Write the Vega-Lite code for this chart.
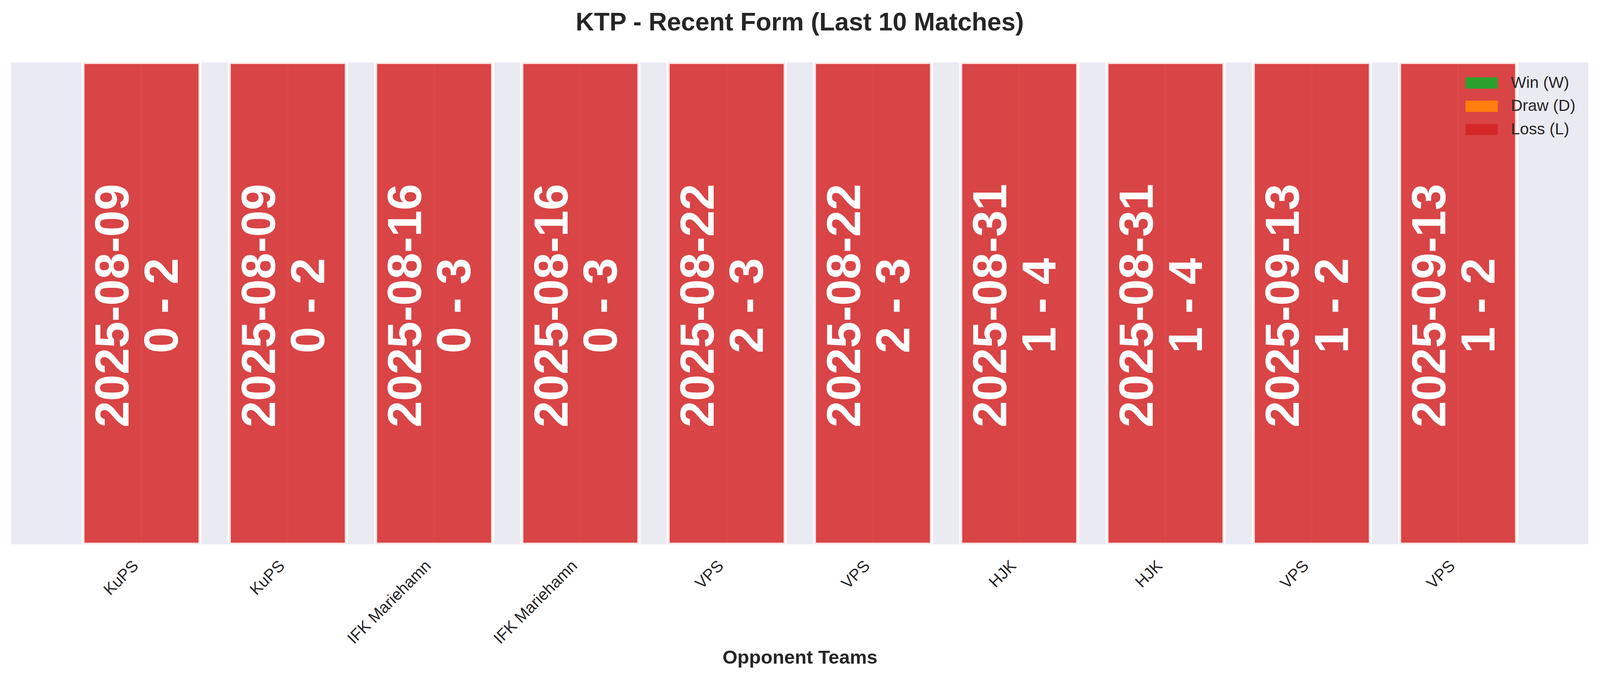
{
  "$schema": "https://vega.github.io/schema/vega-lite/v6.json",
  "width": 4037,
  "height": 1234,
  "autosize": {"type": "none"},
  "padding": {"left": 29, "top": 160, "right": 104, "bottom": 376},
  "background": "white",
  "config": {
    "view": {"fill": "#EAEAF2", "stroke": null},
    "font": "Liberation Sans"
  },
  "title": {
    "text": "KTP - Recent Form (Last 10 Matches)",
    "fontSize": 65,
    "fontWeight": "bold",
    "font": "Liberation Sans",
    "color": "#262626",
    "anchor": "middle",
    "baseline": "alphabetic",
    "offset": 17
  },
  "data": {
    "values": [
      {"key": "01|KuPS", "opponent": "KuPS", "label": "2025-08-09\n0 - 2", "result": "Loss (L)", "bar": 1},
      {"key": "02|KuPS", "opponent": "KuPS", "label": "2025-08-09\n0 - 2", "result": "Loss (L)", "bar": 1},
      {"key": "03|IFK Mariehamn", "opponent": "IFK Mariehamn", "label": "2025-08-16\n0 - 3", "result": "Loss (L)", "bar": 1},
      {"key": "04|IFK Mariehamn", "opponent": "IFK Mariehamn", "label": "2025-08-16\n0 - 3", "result": "Loss (L)", "bar": 1},
      {"key": "05|VPS", "opponent": "VPS", "label": "2025-08-22\n2 - 3", "result": "Loss (L)", "bar": 1},
      {"key": "06|VPS", "opponent": "VPS", "label": "2025-08-22\n2 - 3", "result": "Loss (L)", "bar": 1},
      {"key": "07|HJK", "opponent": "HJK", "label": "2025-08-31\n1 - 4", "result": "Loss (L)", "bar": 1},
      {"key": "08|HJK", "opponent": "HJK", "label": "2025-08-31\n1 - 4", "result": "Loss (L)", "bar": 1},
      {"key": "09|VPS", "opponent": "VPS", "label": "2025-09-13\n1 - 2", "result": "Loss (L)", "bar": 1},
      {"key": "10|VPS", "opponent": "VPS", "label": "2025-09-13\n1 - 2", "result": "Loss (L)", "bar": 1}
    ]
  },
  "encoding": {
    "x": {
      "field": "key",
      "type": "nominal",
      "sort": null,
      "scale": {"paddingInner": 0.2, "paddingOuter": 0.49},
      "axis": {
        "title": "Opponent Teams",
        "titleFontSize": 49,
        "titleFontWeight": "bold",
        "titleFont": "Liberation Sans",
        "titleColor": "#262626",
        "titleBaseline": "alphabetic",
        "titleY": 305,
        "labelExpr": "split(datum.label, '|')[1]",
        "labelAngle": -45,
        "labelAlign": "right",
        "labelBaseline": "middle",
        "labelFontSize": 41.3,
        "labelFont": "Liberation Sans",
        "labelColor": "#262626",
        "labelPadding": 49,
        "labelOffset": -14,
        "labelLimit": 1000,
        "labelOverlap": false,
        "labelBound": false,
        "ticks": false,
        "tickSize": 0,
        "domain": false,
        "grid": true,
        "gridColor": "white",
        "gridWidth": 3.9,
        "bandPosition": 0.5,
        "zindex": 0
      }
    }
  },
  "layer": [
    {
      "mark": {
        "type": "bar",
        "fillOpacity": 0.85,
        "stroke": "white",
        "strokeOpacity": 0.85,
        "strokeWidth": 7.9,
        "clip": true
      },
      "encoding": {
        "y": {"field": "bar", "type": "quantitative", "scale": {"domain": [0, 1]}, "axis": null},
        "color": {
          "field": "result",
          "type": "nominal",
          "scale": {
            "domain": ["Win (W)", "Draw (D)", "Loss (L)"],
            "range": ["#2ca02c", "#ff7f0e", "#d62728"]
          },
          "legend": {
            "title": null,
            "orient": "none",
            "legendX": 3743,
            "legendY": 31.5,
            "padding": 0,
            "labelFontSize": 41.3,
            "labelFont": "Liberation Sans",
            "labelColor": "#262626",
            "labelOffset": 54,
            "labelLimit": 400,
            "symbolType": "M-2,-0.7L2,-0.7L2,0.7L-2,0.7Z",
            "symbolSize": 1706,
            "symbolStrokeWidth": 0,
            "symbolOpacity": 1,
            "rowPadding": 17.7
          }
        }
      }
    },
    {
      "mark": {
        "type": "text",
        "angle": 270,
        "font": "Liberation Sans",
        "fontSize": 122,
        "fontWeight": "bold",
        "color": "white",
        "lineBreak": "\n",
        "lineHeight": 126,
        "align": "center",
        "baseline": "middle",
        "dy": -70,
        "dx": -6
      },
      "encoding": {
        "y": {"datum": 0.5, "type": "quantitative"},
        "text": {"field": "label"}
      }
    }
  ]
}
